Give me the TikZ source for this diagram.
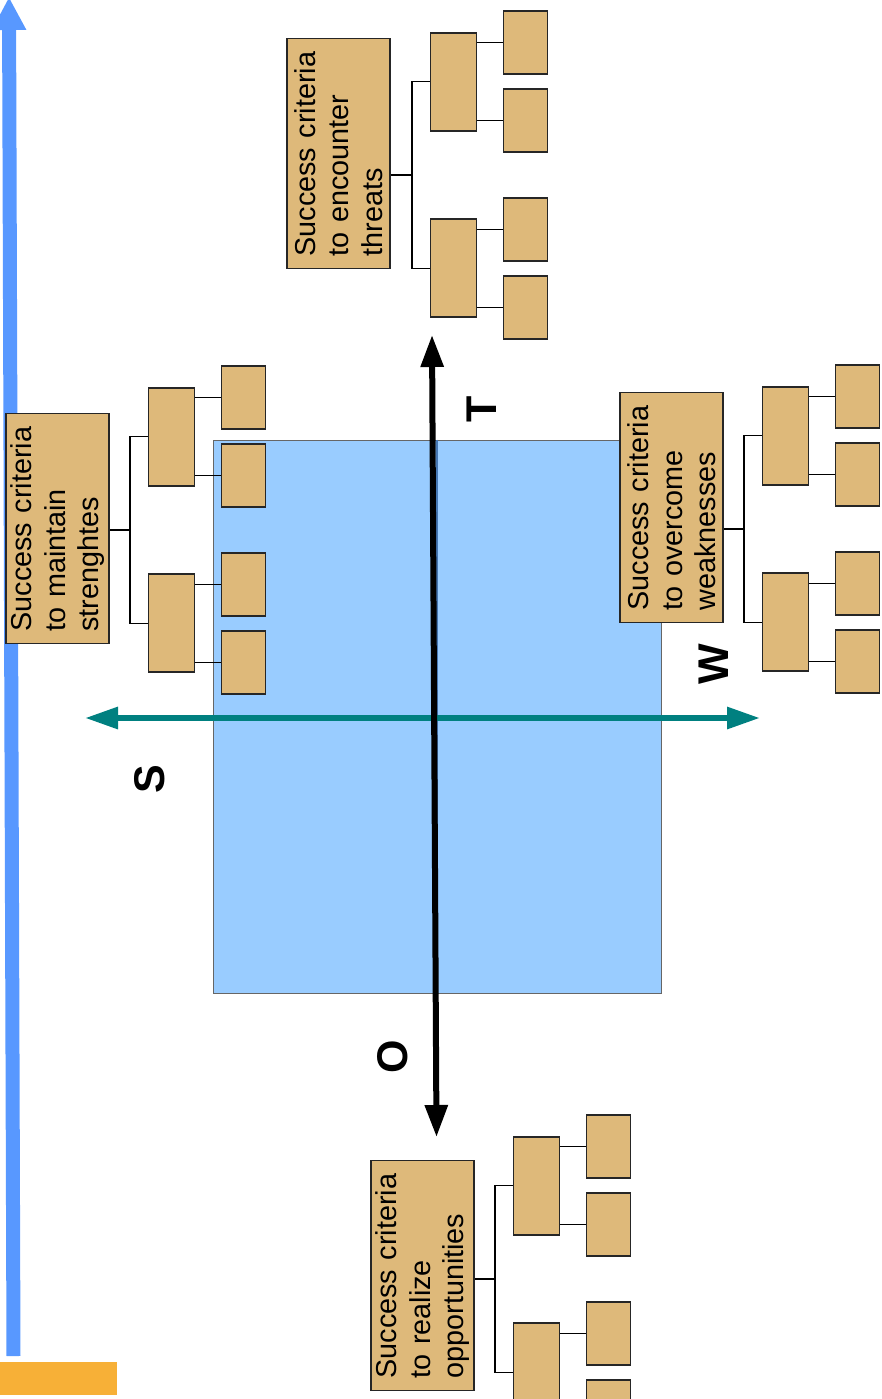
\documentclass[tikz,border=0pt]{standalone}
\usepackage{fontspec}
\setmainfont{Liberation Sans}
\usetikzlibrary{arrows.meta}
\definecolor{boxtan}{RGB}{222,185,122}
\definecolor{quadblue}{RGB}{153,204,255}
\definecolor{quadline}{RGB}{70,120,180}
\definecolor{axisblue}{RGB}{88,152,255}
\definecolor{baseorange}{RGB}{247,176,55}
\definecolor{swotteal}{RGB}{0,128,128}
\tikzset{every picture/.style={/utils/exec={\fontsize{28.8}{33.5}\selectfont}}}
\tikzset{crit/.style={draw=black!85,line width=1.6pt,fill=boxtan,inner sep=0pt}}
\tikzset{goalbox/.style={crit,rotate=90,align=left,text width=206pt,minimum width=230pt,minimum height=103pt}}
\tikzset{subbox/.style={crit,minimum width=46pt,minimum height=98pt}}
\tikzset{leafbox/.style={crit,minimum width=44pt,minimum height=63pt}}
\tikzset{quad/.style={fill=quadblue,draw=black!60,line width=0.8pt,minimum width=448pt,minimum height=553pt,inner sep=0pt}}
\tikzset{axis/.style={{Triangle[length=32pt,width=22pt]}-{Triangle[length=32pt,width=22pt]},line width=6pt}}
\tikzset{letter/.style={rotate=90,inner sep=0pt,font=\fontsize{43}{43}\selectfont\bfseries}}

\begin{document}
\begin{tikzpicture}[x=1pt,y=-1pt,
    grow=right,
    level 1/.style={level distance=41.5pt,sibling distance=186.5pt,
      edge from parent path={(\tikzparentnode) |- (\tikzchildnode.west)}},
    level 2/.style={level distance=72pt,sibling distance=78pt,
      edge from parent path={(\tikzparentnode.east |- \tikzchildnode.west) -- (\tikzchildnode.west)}},
    edge from parent/.style={draw,line width=1.3pt}]
    \useasboundingbox (0,0) rectangle (881,1399);

    % time axis
    \draw[axisblue,line width=14pt,-{Triangle[length=33pt,width=32pt]}] (13.5,1356) -- (9,-3);
    \fill[baseorange] (0,1362) rectangle (117,1395);

    % swot square
    \node[quad] (q) at (437,716.5) {};
    \draw[quadline,line width=1.2pt] (q.north) -- (q.south);
    \draw[quadline,line width=1.2pt] (q.west) -- (q.east);
    \draw[swotteal,line width=6pt,{Triangle[length=33pt,width=21pt]}-{Triangle[length=33pt,width=21pt]}] (85,718) -- (760,718);
    \draw[axis] (432,335) -- (436.5,1137);

    % threats
    \node[coordinate] (jT) at (412,175) {}
        child {node[subbox] {}
            child {node[leafbox] {}}
            child {node[leafbox] {}}
        }
        child {node[subbox] {}
            child {node[leafbox] {}}
            child {node[leafbox] {}}
        };
    \node[goalbox,anchor=south] (gT) at ([xshift=-21pt,yshift=21.5pt]jT) {Success criteria\\to encounter\\threats};
    \draw[line width=1.3pt] (jT) -- (jT -| gT.south);

    % strengths
    \node[coordinate] (jS) at (130,530) {}
        child {node[subbox] {}
            child {node[leafbox] {}}
            child {node[leafbox] {}}
        }
        child {node[subbox] {}
            child {node[leafbox] {}}
            child {node[leafbox] {}}
        };
    \node[goalbox,anchor=south] (gS) at ([xshift=-20pt,yshift=1.5pt]jS) {Success criteria\\to maintain\\strenghtes};
    \draw[line width=1.3pt] (jS) -- (jS -| gS.south);

    % weaknesses
    \node[coordinate] (jW) at (744,529) {}
        child {node[subbox] {}
            child {node[leafbox] {}}
            child {node[leafbox] {}}
        }
        child {node[subbox] {}
            child {node[leafbox] {}}
            child {node[leafbox] {}}
        };
    \node[goalbox,anchor=south] (gW) at ([xshift=-20pt,yshift=21.5pt]jW) {Success criteria\\to overcome\\weaknesses};
    \draw[line width=1.3pt] (jW) -- (jW -| gW.south);

    % opportunities
    \node[coordinate] (jO) at (495,1279) {}
        child {node[subbox] {}
            child {node[leafbox] {}}
            child {node[leafbox] {}}
        }
        child {node[subbox] {}
            child {node[leafbox] {}}
            child {node[leafbox] {}}
        };
    \node[goalbox,anchor=south] (gO) at ([xshift=-20pt,yshift=3.5pt]jO) {Success criteria\\to realize\\opportunities};
    \draw[line width=1.3pt] (jO) -- (jO -| gO.south);

    % letters
    \node[letter] (lT) at (481.5,409.5) {T};
    \node[letter] (lS) at (150,779) {S};
    \node[letter] (lW) at (713.5,664) {W};
    \node[letter] (lO) at (393,1057) {O};
\end{tikzpicture}
\end{document}
